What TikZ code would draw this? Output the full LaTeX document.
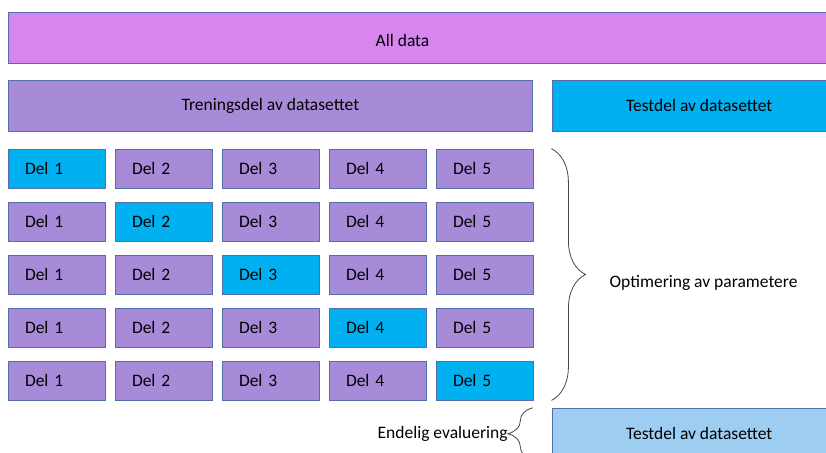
\documentclass[tikz,border=0pt]{standalone}
\usepackage{fontspec}
\setmainfont{Carlito}
\usepackage{tikz}
\usetikzlibrary{positioning,decorations.pathreplacing,calc}

\definecolor{borde}{RGB}{84,110,168}
\definecolor{lila}{RGB}{214,134,238}
\definecolor{morado}{RGB}{167,139,216}
\definecolor{celeste}{RGB}{0,176,240}
\definecolor{azulclaro}{RGB}{157,206,242}
\definecolor{llavegris}{RGB}{70,70,70}

\begin{document}
\begin{tikzpicture}[x=1pt,y=1pt,%
         font=\fontsize{17.5}{20}\selectfont,
         tipo1/.style={rectangle,draw=borde,line width=0.8pt,minimum height=51pt,inner sep=0pt},
         tipo2/.style={rectangle,draw=borde,line width=0.8pt,fill=morado,minimum height=39pt,minimum width=97pt,
                       text width=63pt,align=left,inner sep=0pt},
         tipoactivo/.style={tipo2,fill=celeste},
         tipotexto/.style={inner sep=0pt},
         tipollave/.style={decorate,decoration={brace,amplitude=#1},draw=llavegris,line width=0.8pt}]
        \useasboundingbox (0,0) rectangle (826,-452);
        \clip (0,0) rectangle (826,-452);
        \node [tipo1,fill=lila,minimum width=840pt,anchor=north west] (all) at (8,-12) {};
        \node [tipotexto] (alltexto) at ([xshift=394.5pt,yshift=-3pt]all.west) {All data};
        \node [tipo1,fill=morado,minimum width=524pt,anchor=north west] (tren) at (8,-80) {Treningsdel av datasettet};
        \node [tipo1,fill=celeste,minimum width=294pt] (test) [right=19pt of tren] {Testdel av datasettet};
        % fem delinger
        \foreach \r in {1,...,5}
          \foreach \c in {1,...,5} {
            \ifnum\r=\c \def\estilo{tipoactivo}\else\def\estilo{tipo2}\fi
            \node [\estilo] (d\r\c) at ({56.5+107*(\c-1)},{-168.5-53*(\r-1)}) {Del \c};
          }
        \node [tipo1,fill=azulclaro,minimum width=294pt] (final) [below=276pt of test] {Testdel av datasettet};
        \draw [tipollave=34pt] ([xshift=18pt]d15.north east) -- ([xshift=18pt]d55.south east);
        \node [tipotexto,anchor=west] (optim) at ([xshift=76pt]d35.east |- 0,-283) {Optimering av parametere};
        \draw [tipollave=25pt] ([xshift=-19pt]final.south west) -- ([xshift=-19pt]final.north west);
        \node [tipotexto,anchor=east] (endelig) at ([xshift=-44pt]final.west) {Endelig evaluering};
      \end{tikzpicture}
\end{document}
